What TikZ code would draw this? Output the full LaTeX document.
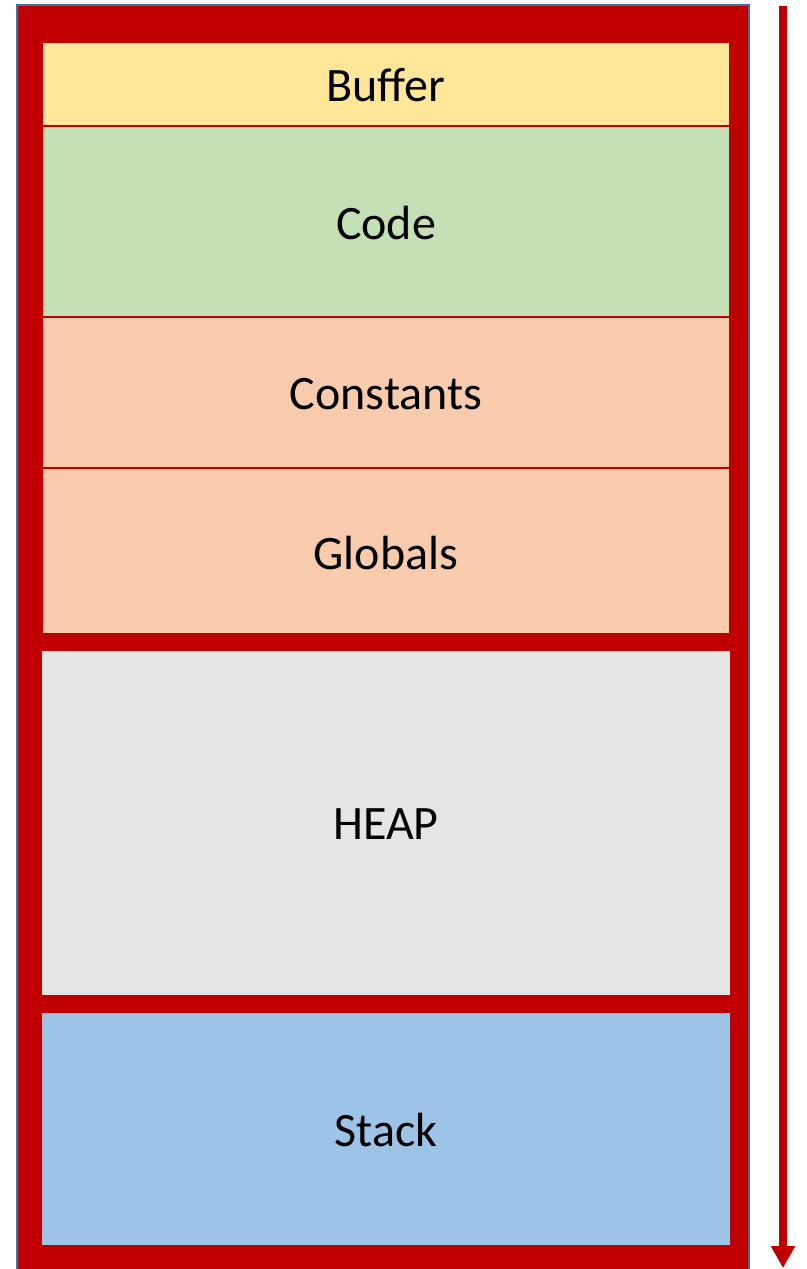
\documentclass[tikz,border=0pt]{standalone}
\usepackage{fontspec}
\setmainfont{Carlito}
\usetikzlibrary{arrows.meta}
\definecolor{frame}{HTML}{C00000}
\definecolor{edge}{HTML}{41719C}
\definecolor{cbuf}{HTML}{FFE699}
\definecolor{ccode}{HTML}{C5E0B4}
\definecolor{cconst}{HTML}{F8CBAD}
\definecolor{cheap}{HTML}{E5E5E5}
\definecolor{cstack}{HTML}{9DC3E6}
\tikzset{
  seg/.style={draw=frame, line width=1.5pt},
  lbl/.style={font=\fontsize{48}{56}\selectfont, text=black},
}
\begin{document}
\begin{tikzpicture}[x=1pt,y=-1pt]
\useasboundingbox (0,0) rectangle (806,1269);
% outer frame
\draw[edge, line width=2pt, fill=frame] (17,5) rectangle (749,1285);
% segments
\filldraw[seg, fill=cbuf] (42,42) rectangle (730,126);
\filldraw[seg, fill=ccode] (42,126) rectangle (730,317);
\filldraw[seg, fill=cconst] (42,317) rectangle (730,468);
\filldraw[seg, fill=cconst] (42,468) rectangle (730,634);
\fill[cheap] (42,651) rectangle (730,995);
\fill[cstack] (42,1013) rectangle (730,1245);
\node[lbl] (buf) at (386,85) {Buffer};
\node[lbl] (code) at (386,223) {Code};
\node[lbl] (const) at (386,394) {Constants};
\node[lbl] (glob) at (386,553) {Globals};
\node[lbl] (heap) at (386,824) {HEAP};
\node[lbl] (stack) at (386,1130) {Stack};
% arrow
\coordinate (atop) at (783,6);
\coordinate (abot) at (783,1268);
\draw[frame, line width=8pt, -{Triangle[width=23pt,length=22pt]}] (atop) -- (abot);
\end{tikzpicture}
\end{document}
